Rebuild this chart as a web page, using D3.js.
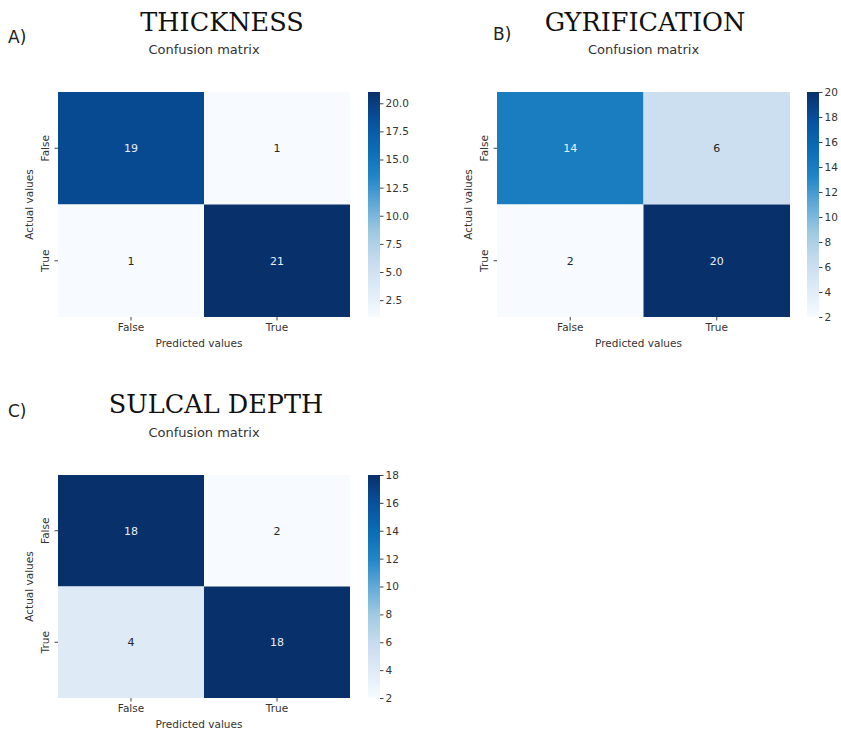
<!DOCTYPE html>
<html><head><meta charset="utf-8">
<script src="https://cdn.jsdelivr.net/npm/d3@7"></script>
<style>body{margin:0;background:#fff}</style>
</head><body>
<svg id="c" width="841" height="734"></svg>
<script>
const categories = ["False", "True"];
const thicknessValues = [[19, 1], [1, 21]];
const gyrificationValues = [[14, 6], [2, 20]];
const sulcalValues = [[18, 2], [4, 18]];
const thicknessTicks = [2.5, 5.0, 7.5, 10.0, 12.5, 15.0, 17.5, 20.0];
const gyrificationTicks = [2, 4, 6, 8, 10, 12, 14, 16, 18, 20];
const sulcalTicks = [2, 4, 6, 8, 10, 12, 14, 16, 18];
const titles = ["THICKNESS", "GYRIFICATION", "SULCAL DEPTH"];
const letters = ["A)", "B)", "C)"];
const bluesStops = ["#f7fbff", "#deebf7", "#c6dbef", "#9ecae1", "#62a9d8", "#2086c6", "#0a6cb4", "#08519c", "#08306b"];

const blues = d3.scaleLinear().domain(d3.range(bluesStops.length).map(i => i / (bluesStops.length - 1)))
  .range(bluesStops).interpolate(d3.interpolateRgb);

const svg = d3.select("#c");
const defs = svg.append("defs");
const panels = [
  {vals: thicknessValues, ticks: thicknessTicks, fmt: d3.format(".1f"), x0: 58, y0: 92, w: 292, h: 225, cbx: 368, title: titles[0], tx: 222, ty: 31, letter: letters[0], lx: 8, ly: 43},
  {vals: gyrificationValues, ticks: gyrificationTicks, fmt: d3.format("d"), x0: 497, y0: 92, w: 293, h: 225, cbx: 807, title: titles[1], tx: 645, ty: 31, letter: letters[1], lx: 493, ly: 40},
  {vals: sulcalValues, ticks: sulcalTicks, fmt: d3.format("d"), x0: 58, y0: 475, w: 292, h: 223, cbx: 368, title: titles[2], tx: 216, ty: 413, letter: letters[2], lx: 8, ly: 417}
];

panels.forEach((p, k) => {
  const flat = p.vals.flat();
  const vmin = d3.min(flat), vmax = d3.max(flat);
  const color = d3.scaleSequential(blues).domain([vmin, vmax]);
  const x = d3.scaleBand().domain(categories).range([p.x0, p.x0 + p.w]);
  const y = d3.scaleBand().domain(categories).range([p.y0, p.y0 + p.h]);
  const g = svg.append("g");

  g.append("text").attr("x", p.tx).attr("y", p.ty).attr("text-anchor", "middle")
    .attr("font-family", "DejaVu Serif").attr("font-size", 25.5).attr("fill", "#111").text(p.title);
  g.append("text").attr("x", p.lx).attr("y", p.ly)
    .attr("font-family", "DejaVu Sans").attr("font-size", 17).attr("fill", "#222").text(p.letter);
  g.append("text").attr("x", p.x0 + p.w / 2).attr("y", p.y0 - 38).attr("text-anchor", "middle")
    .attr("font-family", "DejaVu Sans").attr("font-size", 13).attr("fill", "#333").text("Confusion matrix");

  const cells = [];
  categories.forEach((a, i) => categories.forEach((pr, j) => cells.push({a, pr, v: p.vals[i][j]})));
  g.selectAll("rect.cell").data(cells).join("rect").attr("class", "cell")
    .attr("x", d => x(d.pr)).attr("y", d => y(d.a))
    .attr("width", x.bandwidth()).attr("height", y.bandwidth())
    .attr("fill", d => color(d.v));
  g.selectAll("text.ann").data(cells).join("text").attr("class", "ann")
    .attr("x", d => x(d.pr) + x.bandwidth() / 2).attr("y", d => y(d.a) + y.bandwidth() / 2)
    .attr("dy", "0.35em").attr("text-anchor", "middle")
    .attr("font-family", "DejaVu Sans").attr("font-size", 11)
    .attr("fill", d => { const c = d3.lab(color(d.v)); return c.l < 60 ? "#e8eef8" : "#262626"; })
    .text(d => d.v);

  const xa = g.append("g").attr("transform", `translate(0,${p.y0 + p.h})`)
    .call(d3.axisBottom(x).tickSize(3.5).tickPadding(3));
  xa.select(".domain").remove();
  xa.selectAll("text").attr("font-family", "DejaVu Sans").attr("font-size", 10.5).attr("fill", "#333");
  xa.selectAll("line").attr("stroke", "#444");
  const ya = g.append("g").attr("transform", `translate(${p.x0},0)`)
    .call(d3.axisLeft(y).tickSize(3.5).tickPadding(3));
  ya.select(".domain").remove();
  ya.selectAll("line").attr("stroke", "#444");
  ya.selectAll("text").attr("font-family", "DejaVu Sans").attr("font-size", 10.5).attr("fill", "#333")
    .attr("text-anchor", "middle").attr("x", 0).attr("y", 0).attr("dy", 0)
    .attr("transform", "translate(-9,0) rotate(-90)");
  g.append("text").attr("x", p.x0 + p.w / 2 - 5).attr("y", p.y0 + p.h + 30).attr("text-anchor", "middle")
    .attr("font-family", "DejaVu Sans").attr("font-size", 10.5).attr("fill", "#333").text("Predicted values");
  g.append("text").attr("transform", `translate(${p.x0 - 25},${p.y0 + p.h / 2}) rotate(-90)`)
    .attr("text-anchor", "middle")
    .attr("font-family", "DejaVu Sans").attr("font-size", 10.5).attr("fill", "#333").text("Actual values");

  const cbw = 12;
  const cy = d3.scaleLinear().domain([vmin, vmax]).range([p.y0 + p.h, p.y0]);
  const gid = "grad" + k;
  const grad = defs.append("linearGradient").attr("id", gid)
    .attr("x1", 0).attr("y1", 1).attr("x2", 0).attr("y2", 0);
  d3.range(0, 1.0001, 0.025).forEach(t => grad.append("stop").attr("offset", t).attr("stop-color", blues(t)));
  g.append("rect").attr("x", p.cbx).attr("y", p.y0).attr("width", cbw).attr("height", p.h).attr("fill", `url(#${gid})`);
  const ca = g.append("g").attr("transform", `translate(${p.cbx + cbw},0)`)
    .call(d3.axisRight(cy).tickValues(p.ticks).tickFormat(p.fmt).tickSize(3.5).tickPadding(2));
  ca.select(".domain").remove();
  ca.selectAll("line").attr("stroke", "#444");
  ca.selectAll("text").attr("font-family", "DejaVu Sans").attr("font-size", 10.5).attr("fill", "#333");
});
</script>
</body></html>
